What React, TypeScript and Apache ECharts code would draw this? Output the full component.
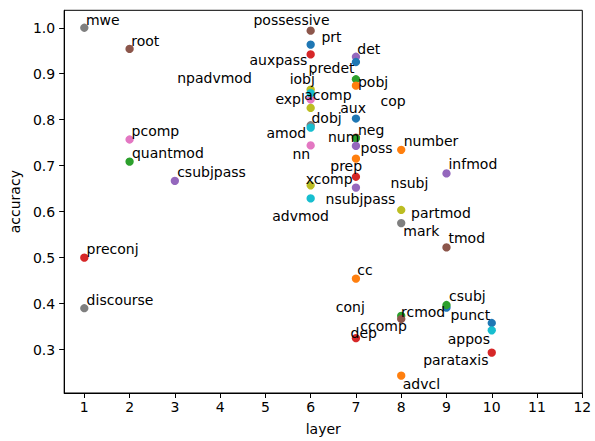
import React, { useEffect, useRef } from "react";
import * as echarts from "echarts";

const relations = [
  "mwe", "root", "pcomp", "quantmod", "csubjpass", "preconj", "discourse",
  "possessive", "prt", "auxpass", "iobj", "acomp", "npadvmod", "expl", "amod", "dobj", "nn", "xcomp", "advmod",
  "det", "predet", "pobj", "cop", "aux", "neg", "num", "poss", "prep", "nsubj", "nsubjpass", "cc", "dep",
  "number", "partmod", "mark", "ccomp", "rcmod", "advcl",
  "infmod", "tmod", "conj", "csubj",
  "punct", "appos", "parataxis",
];
const layers = [
  1, 2, 2, 2, 3, 1, 1,
  6, 6, 6, 6, 6, 6, 6, 6, 6, 6, 6, 6,
  7, 7, 7, 7, 7, 7, 7, 7, 7, 7, 7, 7, 7,
  8, 8, 8, 8, 8, 8,
  9, 9, 9, 9,
  10, 10, 10,
];
const accuracies = [
  1.0, 0.954, 0.757, 0.709, 0.667, 0.5, 0.39,
  0.9936, 0.9635, 0.942, 0.8655, 0.844, 0.858, 0.8256, 0.788, 0.7827, 0.744, 0.6574, 0.6288,
  0.937, 0.9256, 0.888, 0.874, 0.8026, 0.761, 0.76, 0.743, 0.7153, 0.676, 0.6524, 0.4544, 0.3248,
  0.7346, 0.6037, 0.5752, 0.3735, 0.3665, 0.2433,
  0.6831, 0.5222, 0.3913, 0.397,
  0.3579, 0.342, 0.2935,
];
const xTicks = [1, 2, 3, 4, 5, 6, 7, 8, 9, 10, 11, 12];
const yTicks = [0.3, 0.4, 0.5, 0.6, 0.7, 0.8, 0.9, 1.0];

const C = {
  blue: "#1f77b4", orange: "#ff7f0e", green: "#2ca02c", red: "#d62728", purple: "#9467bd",
  brown: "#8c564b", pink: "#e377c2", gray: "#7f7f7f", olive: "#bcbd22", cyan: "#17becf",
};
const pointColors = [
  C.gray, C.brown, C.pink, C.green, C.purple, C.red, C.gray,
  C.brown, C.blue, C.red, C.olive, C.pink, C.cyan, C.olive, C.gray, C.cyan, C.pink, C.olive, C.cyan,
  C.purple, C.blue, C.green, C.orange, C.blue, C.red, C.green, C.purple, C.orange, C.red, C.purple, C.orange, C.red,
  C.orange, C.olive, C.gray, C.green, C.brown, C.orange,
  C.purple, C.brown, C.blue, C.green,
  C.blue, C.cyan, C.red,
];
// label offsets in pixels (text left edge / vertical middle relative to the marker centre)
const labelOffsets: number[][] = [
  [1.6, -7.7], [1.7, -7.6], [2, -8.6], [2.4, -8.4], [2.3, -9], [2.3, -8.7], [2.3, -8.6],
  [-57.2, -11], [10.8, -7.5], [-61.2, 6], [-21, -10.7], [-6.5, -4], [-133.5, -15], [-35.2, -8.6], [-44.2, 7.3], [0.8, -9.3], [-18.2, 8.4], [-4.9, -6], [-38.5, 17.3],
  [1.3, -7.3], [-47.4, 5.6], [2, 2.3], [24.6, 15], [-15.7, -10.7], [2, -7.7], [-28, -0.7], [4.6, 1.6], [-25.7, 7.6], [34.6, 6], [-30.4, 11], [1.3, -9], [-5.4, -5.4],
  [2.5, -8.4], [9.8, 3.3], [2.1, 8.3], [-40.9, 10], [-0.2, -6.6], [1.5, 8.3],
  [2, -9], [2, -9], [-110.7, -0.7], [2.6, -9],
  [-41.3, -8.3], [-44, 8.6], [-68.6, 7.7],
];

const FONT = "'DejaVu Sans', sans-serif";

export default function App() {
  const ref = useRef<HTMLDivElement>(null);
  useEffect(() => {
    if (!ref.current) return;
    const chart = echarts.init(ref.current, undefined, { renderer: "svg" });
    const data = relations.map((name, i) => ({
      name,
      value: [layers[i], accuracies[i]],
      itemStyle: { color: pointColors[i], opacity: 1 },
      label: { offset: labelOffsets[i] },
    }));
    chart.setOption({
      animation: false,
      grid: {
        left: 61.5,
        top: 10.3,
        right: 12.7,
        bottom: 42.7,
        show: true,
        borderColor: "#000",
        borderWidth: 1,
        backgroundColor: "transparent",
      },
      xAxis: {
        type: "value",
        min: 0.555,
        max: 12,
        name: "layer",
        nameLocation: "middle",
        nameGap: 29,
        nameTextStyle: { fontSize: 14, color: "#000", fontFamily: FONT },
        splitLine: { show: false },
        axisLine: { show: true, onZero: false, lineStyle: { color: "#000", width: 1 } },
        axisTick: { show: true, length: 5, lineStyle: { color: "#000" }, customValues: xTicks },
        axisLabel: { fontSize: 14, color: "#000", fontFamily: FONT, margin: 7, customValues: xTicks, formatter: (v: number) => String(v) },
      },
      yAxis: {
        type: "value",
        min: 0.2056,
        max: 1.038,
        name: "accuracy",
        nameLocation: "middle",
        nameRotate: 90,
        nameGap: 40,
        nameTextStyle: { fontSize: 14, color: "#000", fontFamily: FONT },
        splitLine: { show: false },
        axisLine: { show: true, onZero: false, lineStyle: { color: "#000", width: 1 } },
        axisTick: { show: true, length: 5, lineStyle: { color: "#000" }, customValues: yTicks },
        axisLabel: { fontSize: 14, color: "#000", fontFamily: FONT, margin: 9, customValues: yTicks, formatter: (v: number) => v.toFixed(1) },
      },
      series: [
        {
          type: "scatter",
          symbol: "circle",
          symbolSize: 8.3,
          silent: true,
          itemStyle: { opacity: 1 },
          data,
          label: {
            show: true,
            position: "inside",
            align: "left",
            verticalAlign: "middle",
            formatter: (p: any) => p.name,
            color: "#000",
            fontSize: 14,
            fontFamily: FONT,
          },
          emphasis: { disabled: true },
        },
      ],
    });
    return () => chart.dispose();
  }, []);
  return (
    <div
      ref={ref}
      style={{ position: "absolute", left: 0, top: 0, width: 595, height: 441, background: "#fff" }}
    />
  );
}
